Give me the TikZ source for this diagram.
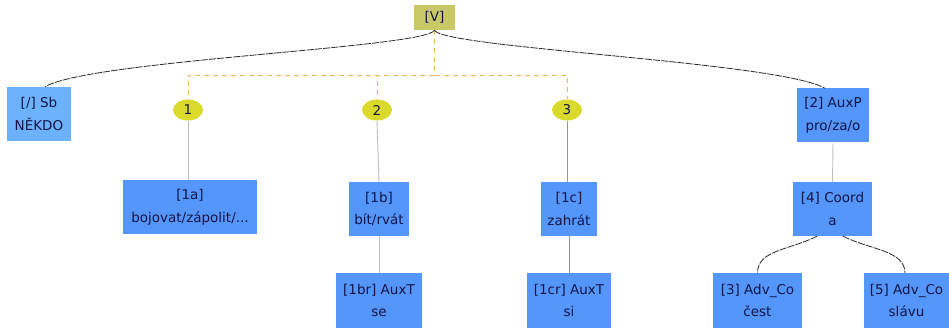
\documentclass[tikz,border=0pt]{standalone}
\usepackage{fontspec}
\setmainfont{DejaVu Sans}
\usepackage{tikz}
\usetikzlibrary{shapes.geometric, positioning, calc}
\definecolor{verbfill}{RGB}{200,200,100}
\definecolor{sbfill}{RGB}{108,178,250}
\definecolor{boxfill}{RGB}{85,150,250}
\definecolor{slotfill}{RGB}{218,218,45}
\definecolor{boxtext}{RGB}{20,20,70}
\definecolor{slotline}{RGB}{240,180,90}
\definecolor{lightgrey}{RGB}{190,190,190}
\definecolor{midgrey}{RGB}{150,150,150}
\definecolor{curvedark}{RGB}{40,40,40}
\tikzset{
  treebox/.style={rectangle, fill=boxfill, text=boxtext, align=center,
    font=\fontsize{13.5}{22.5}\selectfont, inner xsep=2pt, minimum height=54pt},
  verbbox/.style={rectangle, fill=verbfill, text=boxtext,
    font=\fontsize{13.5}{22}\selectfont, minimum width=41pt, minimum height=25pt},
  slot/.style={ellipse, fill=slotfill, text=boxtext, inner sep=0pt,
    font=\fontsize{13.5}{15}\selectfont, minimum width=30pt, minimum height=21pt},
  curveedge/.style={color=curvedark, line width=0.8pt, dash pattern=on 7pt off 1.2pt},
  slotedge/.style={color=slotline, line width=0.8pt, dash pattern=on 5pt off 4pt},
  plainedge/.style={color=lightgrey, line width=0.9pt},
  darkedge/.style={color=midgrey, line width=0.9pt}
}
\begin{document}
\begin{tikzpicture}[x=1pt, y=-1pt]
  \useasboundingbox (0,0) rectangle (949,328);

  % predicate and its frame slots
  \node[verbbox] (verb) at (434.5,17.5) {[V]};
  \node[slot] (s1) at (188,110) {1};
  \node[slot] (s2) at (377,110) {2};
  \node[slot] (s3) at (567,110) {3};
  \coordinate (fork) at (434.5,75);

  % subject and prepositional branch
  \node[treebox, fill=sbfill, minimum width=64pt] (sb) at (39,114) {[/] Sb\\NĚKDO};
  \node[treebox, minimum width=72pt] (auxp) at (833,115.5) {[2] AuxP\\pro/za/o};
  \node[treebox, minimum width=79pt] (coord) at (832.5,209) {[4] Coord\\a};
  \node[treebox, minimum width=89pt] (adv1) at (757.5,300.5) {[3] Adv\_Co\\čest};
  \node[treebox, minimum width=85pt] (adv2) at (906.5,300.5) {[5] Adv\_Co\\slávu};

  % lexical fillers of the slots
  \node[treebox, minimum width=134pt] (fa) at (190,207.5) {[1a]\\bojovat/zápolit/...};
  \node[treebox, minimum width=60pt] (fb) at (379,209) {[1b]\\bít/rvát};
  \node[treebox, minimum width=56pt] (fc) at (569,209) {[1c]\\zahrát};
  \node[treebox, minimum width=86pt] (fbr) at (379,300.5) {[1br] AuxT\\se};
  \node[treebox, minimum width=84pt] (fcr) at (569,300.5) {[1cr] AuxT\\si};

  % dashed links from the verb to the slots
  \foreach \s in {s1,s2,s3}
    \draw[slotedge] (verb.south) -- (fork) -| (\s.north);

  % curved dependency edges
  \draw[curveedge] (verb.south) .. controls (426,48) and (90,60) .. (sb.north -| 45,0);
  \draw[curveedge] (verb.south) .. controls (442,48) and (780,62) .. (auxp.north -| 825,0);
  \draw[curveedge] (coord.south -| 817,0) .. controls (790,250) and (757,250) .. (adv1.north);
  \draw[curveedge] (coord.south -| 843,0) .. controls (870,250) and (905,250) .. (adv2.north -| 905,0);

  % straight edges
  \draw[plainedge] (s1.south) -- (s1.south |- fa.north);
  \draw[plainedge] (s2.south) -- (fb.north);
  \draw[darkedge] (s3.south) -- (s3.south |- fc.north);
  \draw[plainedge] (fb.south) -- (fbr.north);
  \draw[darkedge] (fc.south) -- (fcr.north);
  \draw[plainedge] (auxp.south) -- (coord.north);
\end{tikzpicture}
\end{document}
